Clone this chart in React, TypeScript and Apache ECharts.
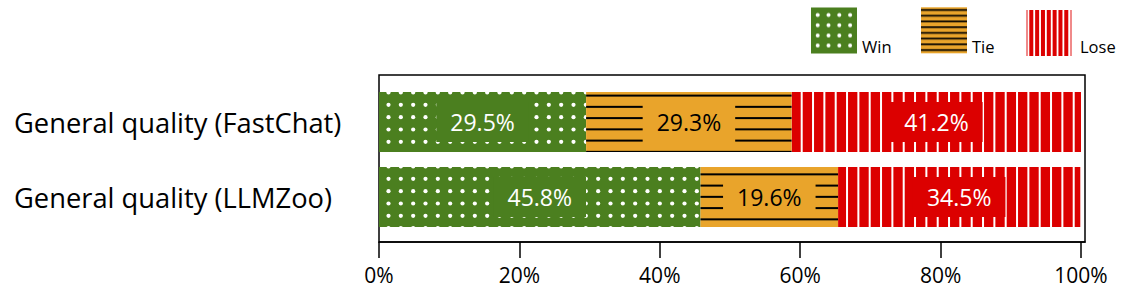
import React, { useEffect, useRef } from 'react';
import * as echarts from 'echarts';

const categories = ['General quality (FastChat)', 'General quality (LLMZoo)'];
const seriesNames = ['Win', 'Tie', 'Lose'];
const winValues = [29.5, 45.8];
const tieValues = [29.3, 19.6];
const loseValues = [41.2, 34.5];
const xTicks = [0, 20, 40, 60, 80, 100];

const GREEN = '#4B7F1F';
const ORANGE = '#E9A42B';
const RED = '#DC0000';
const FONT = '"Open Sans", "Noto Sans", sans-serif';

function makeCanvas(w: number, h: number, draw: (ctx: CanvasRenderingContext2D) => void) {
  const c = document.createElement('canvas');
  c.width = w;
  c.height = h;
  const ctx = c.getContext('2d') as CanvasRenderingContext2D;
  draw(ctx);
  return c;
}

// bar pattern tiles
function dotsTile() {
  return makeCanvas(37, 37, (ctx) => {
    ctx.fillStyle = GREEN;
    ctx.fillRect(0, 0, 37, 37);
    ctx.fillStyle = '#ffffff';
    for (let i = 0; i < 3; i++) {
      for (let j = 0; j < 3; j++) {
        ctx.beginPath();
        ctx.arc(6.17 + i * 12.33, 6.17 + j * 12.33, 2.1, 0, Math.PI * 2);
        ctx.fill();
      }
    }
  });
}
function hLinesTile() {
  return makeCanvas(8, 45, (ctx) => {
    ctx.fillStyle = ORANGE;
    ctx.fillRect(0, 0, 8, 45);
    ctx.fillStyle = '#000000';
    for (let k = 0; k < 4; k++) {
      ctx.fillRect(0, 5.6 + k * 11.25 - 1, 8, 2);
    }
  });
}
function vLinesTile() {
  return makeCanvas(34, 8, (ctx) => {
    ctx.fillStyle = RED;
    ctx.fillRect(0, 0, 34, 8);
    ctx.fillStyle = '#ffffff';
    for (let k = 0; k < 3; k++) {
      ctx.fillRect(7.37 + k * 11.33, 0, 2, 8);
    }
  });
}

// legend icons
function winIcon() {
  return makeCanvas(46, 46, (ctx) => {
    ctx.fillStyle = GREEN;
    ctx.fillRect(0, 0, 46, 46);
    ctx.fillStyle = '#ffffff';
    for (let i = 0; i < 4; i++) {
      for (let j = 0; j < 4; j++) {
        ctx.beginPath();
        ctx.arc(6.7 + i * 10.8, 7.5 + j * 10.2, 2, 0, Math.PI * 2);
        ctx.fill();
      }
    }
  }).toDataURL();
}
function tieIcon() {
  return makeCanvas(46, 46, (ctx) => {
    ctx.fillStyle = ORANGE;
    ctx.fillRect(0, 0, 46, 46);
    ctx.fillStyle = '#000000';
    for (let k = 0; k < 8; k++) {
      ctx.fillRect(0, 2.7 + k * 5.72 - 0.85, 46, 1.7);
    }
  }).toDataURL();
}
function loseIcon() {
  return makeCanvas(46, 46, (ctx) => {
    ctx.fillStyle = '#ffffff';
    ctx.fillRect(0, 0, 46, 46);
    ctx.fillStyle = '#F08A8A';
    ctx.fillRect(0, 0, 2, 46);
    ctx.fillRect(44, 0, 2, 46);
    ctx.fillStyle = RED;
    for (let k = 0; k < 7; k++) {
      ctx.fillRect(3.3 + k * 5.83, 0, 4, 46);
    }
  }).toDataURL();
}

export default function App() {
  const ref = useRef<HTMLDivElement>(null);

  useEffect(() => {
    document.body.style.margin = '0';
    if (!ref.current) return;
    const chart = echarts.init(ref.current, undefined, { renderer: 'svg' });

    const dots = dotsTile();
    const hl = hLinesTile();
    const vl = vLinesTile();
    // pattern phases for the two bars (top / bottom)
    const winPhaseY = [91.83, 166.83];
    const tiePhaseY = [93.7, 168.1];

    const pat = (img: HTMLCanvasElement, x: number, y: number) => ({
      image: img,
      repeat: 'repeat',
      imageWidth: img.width,
      imageHeight: img.height,
      x,
      y,
    });

    const labelBase = {
      show: true,
      position: 'inside',
      fontSize: 23,
      fontFamily: FONT,
      lineHeight: 24,
      padding: [8, 14],
      formatter: (p: any) => Number(p.value).toFixed(1) + '%',
    };

    const option: any = {
      animation: false,
      textStyle: { fontFamily: FONT },
      grid: [
        { left: 379, right: 46, top: 84.5, height: 150 },
        {
          left: 379,
          right: 46,
          top: 75,
          height: 167,
          show: true,
          borderColor: '#000',
          borderWidth: 1.5,
          backgroundColor: 'transparent',
        },
      ],
      xAxis: [
        { gridIndex: 0, type: 'value', min: 0, max: 100.57, show: false },
        {
          gridIndex: 1,
          type: 'value',
          min: 0,
          max: 100.57,
          axisLine: { show: true, lineStyle: { color: '#000', width: 1.5 } },
          axisTick: { show: true, length: 16, customValues: xTicks, lineStyle: { color: '#000', width: 1.5 } },
          axisLabel: {
            customValues: xTicks,
            formatter: (v: number) => v + '%',
            fontSize: 21,
            color: '#000',
            margin: 22,
            fontFamily: FONT,
          },
          splitLine: { show: false },
        },
      ],
      yAxis: [
        {
          gridIndex: 0,
          type: 'category',
          data: categories,
          inverse: true,
          axisLine: { show: false },
          axisTick: { show: false },
          axisLabel: { fontSize: 27.3, color: '#000', margin: 365, align: 'left', fontFamily: FONT },
        },
        { gridIndex: 1, type: 'value', min: 0, max: 1, show: false },
      ],
      series: [
        {
          name: seriesNames[0],
          type: 'bar',
          stack: 'total',
          barWidth: 60,
          xAxisIndex: 0,
          yAxisIndex: 0,
          data: winValues.map((v, i) => ({ value: v, itemStyle: { color: pat(dots, 7.13, winPhaseY[i]) } })),
          label: { ...labelBase, color: '#fff', backgroundColor: GREEN },
        },
        {
          name: seriesNames[1],
          type: 'bar',
          stack: 'total',
          barWidth: 60,
          xAxisIndex: 0,
          yAxisIndex: 0,
          data: tieValues.map((v, i) => ({ value: v, itemStyle: { color: pat(hl, 0, tiePhaseY[i]) } })),
          label: { ...labelBase, color: '#000', backgroundColor: ORANGE },
        },
        {
          name: seriesNames[2],
          type: 'bar',
          stack: 'total',
          barWidth: 60,
          xAxisIndex: 0,
          yAxisIndex: 0,
          data: loseValues.map((v) => ({ value: v, itemStyle: { color: pat(vl, 0, 0) } })),
          label: { ...labelBase, color: '#fff', backgroundColor: RED },
        },
      ],
      graphic: [
        { type: 'image', left: 811, top: 7.5, style: { image: winIcon(), x: 0, y: 0, width: 46, height: 46 } },
        { type: 'image', left: 921, top: 7.3, style: { image: tieIcon(), x: 0, y: 0, width: 46, height: 46 } },
        { type: 'image', left: 1026, top: 10, style: { image: loseIcon(), x: 0, y: 0, width: 46, height: 46 } },
        { type: 'text', left: 862, top: 37.5, style: { text: seriesNames[0], fontSize: 16.5, fontFamily: FONT, fill: '#000' } },
        { type: 'text', left: 972, top: 37.5, style: { text: seriesNames[1], fontSize: 16.5, fontFamily: FONT, fill: '#000' } },
        { type: 'text', left: 1080, top: 37.5, style: { text: seriesNames[2], fontSize: 16.5, fontFamily: FONT, fill: '#000' } },
      ],
    };

    chart.setOption(option);
    return () => {
      chart.dispose();
    };
  }, []);

  return <div ref={ref} style={{ width: 1131, height: 293 }} />;
}
